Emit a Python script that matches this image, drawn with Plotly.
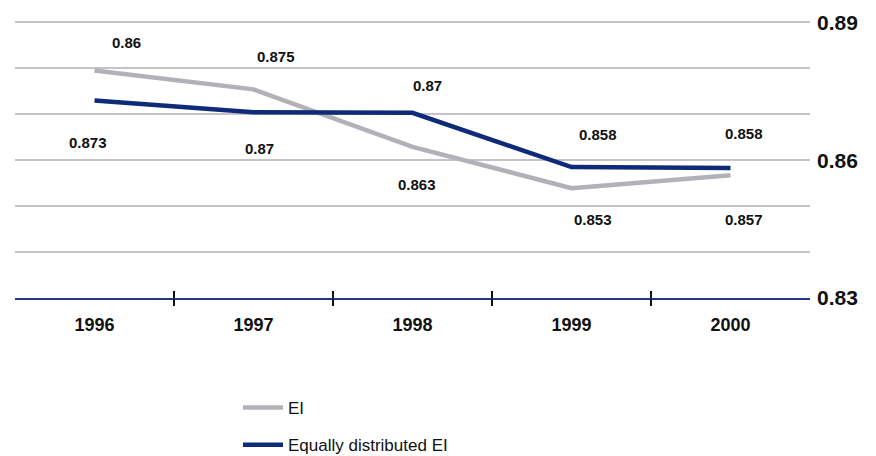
import plotly.graph_objects as go

years = ["1996", "1997", "1998", "1999", "2000"]
ei_values = [0.8795, 0.8754, 0.8629, 0.8539, 0.8567]
ede_values = [0.8730, 0.8704, 0.8703, 0.8585, 0.8583]
ei_labels = ["0.86", "0.875", "0.863", "0.853", "0.857"]
ede_labels = ["0.873", "0.87", "0.87", "0.858", "0.858"]
y_ticks = [0.83, 0.84, 0.85, 0.86, 0.87, 0.88, 0.89]
y_ticktext = ["0.83", "", "", "0.86", "", "", "0.89"]

# label offsets in pixels (xshift, yshift)
ei_shift = [(32, 28), (22, 33), (4, -38), (21, -31), (13, -44)]
ede_shift = [(-7, -42), (6, -36), (15, 27), (26, 33), (13, 34)]

GRAY = "#B1B1B8"
NAVY = "#0F2A78"
FONT = "Liberation Sans, Arial, sans-serif"

xi = list(range(len(years)))
fig = go.Figure()
fig.add_trace(go.Scatter(x=xi, y=ei_values, mode="lines", name="EI",
                         line=dict(color=GRAY, width=4.5), legendgroup="a"))
fig.add_trace(go.Scatter(x=xi, y=ede_values, mode="lines", name="Equally distributed EI",
                         line=dict(color=NAVY, width=4.5), legendgroup="b"))

bounds = [i + 0.5 for i in range(len(years) - 1)]
rng = [-0.5, len(years) - 0.5]

# empty helper traces so the boundary-tick axes are drawn
for ax in ("x2", "x3"):
    fig.add_trace(go.Scatter(x=[None], y=[None], xaxis=ax, yaxis="y",
                             showlegend=False, hoverinfo="skip", mode="lines"))

for vals, labels, shifts in ((ei_values, ei_labels, ei_shift), (ede_values, ede_labels, ede_shift)):
    for i, (v, t, s) in enumerate(zip(vals, labels, shifts)):
        fig.add_annotation(x=i, y=v, text=f"<b>{t}</b>", showarrow=False,
                           xshift=s[0], yshift=s[1],
                           font=dict(family=FONT, size=15, color="#111111"))

fig.update_layout(
    width=876, height=456,
    margin=dict(l=15, r=66, t=20, b=158, autoexpand=False),
    paper_bgcolor="white", plot_bgcolor="white",
    font=dict(family=FONT, color="#111111"),
    showlegend=True,
    legend=dict(x=0.2805, y=-0.331, xanchor="left", yanchor="top",
                orientation="v", tracegroupgap=12,
                font=dict(family=FONT, size=17, color="#111111"),
                itemwidth=40),
    xaxis=dict(range=rng, tickvals=xi, ticktext=[f"<b>{y}</b>" for y in years],
               ticks="", showgrid=False, zeroline=False, ticklabelstandoff=9,
               showline=True, linecolor="#1F3A80", linewidth=2,
               tickfont=dict(family=FONT, size=18, color="#111111")),
    xaxis2=dict(range=rng, overlaying="x", anchor="y", side="bottom",
                tickvals=bounds, ticks="outside", ticklen=7, tickwidth=1.5,
                tickcolor="#111111", showticklabels=False, showgrid=False,
                zeroline=False, showline=False),
    xaxis3=dict(range=rng, overlaying="x", anchor="y", side="bottom",
                tickvals=bounds, ticks="inside", ticklen=7, tickwidth=1.5,
                tickcolor="#111111", showticklabels=False, showgrid=False,
                zeroline=False, showline=False),
    yaxis=dict(range=[0.83, 0.8905], side="right", tickvals=y_ticks,
               ticktext=[f"<b>{t}</b>" if t else "" for t in y_ticktext],
               showgrid=True, gridcolor="#C4C4C8", gridwidth=1.5,
               zeroline=False, ticks="", showline=False, ticklabelstandoff=6,
               tickfont=dict(family=FONT, size=21, color="#111111")),
)

fig.write_html("out.html", config={"displayModeBar": False},
               post_script="document.body.style.margin='0';")
